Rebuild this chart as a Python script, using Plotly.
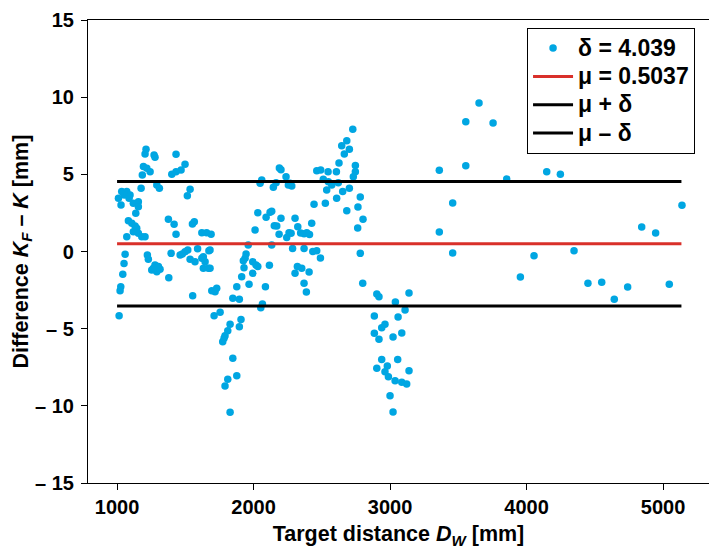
import plotly.graph_objects as go

# ---- data ----
dist_a = [1212,1205,1271,1278,1432,1193,1218,1242,1185,1498,1469,1432,1401,1291,1310,1176,1535,1515,
          1034,1071,1095,1010,1029,1119,1156,1156,1137,1053,1088,
          1083,1108,1132,1144,1156,1119,1181,1205,1071,
          1376,1418,1432,1566,1552,1621,1656,1689,
          1059,1051,1042,1027,1022,1015,
          1222,1229,1254,1278,1303,1291,1315,1266,
          1379,1396,1462,1498,1518,1478,1590,1673,
          1535,1571,1621,1645,1632,1669,1632,
          1554,1694,1718,1730]
diff_a = [6.62,6.32,6.25,6.1,6.3,5.5,5.39,5.17,4.96,5.65,5.28,5.17,5.0,4.31,4.1,4.1,4.03,3.62,
          3.88,3.88,3.66,3.45,3.01,3.12,3.23,2.9,2.48,3.66,3.45,
          2.0,1.83,1.65,1.5,1.18,1.28,0.96,0.96,0.96,
          2.09,1.76,1.11,1.93,1.78,1.22,1.22,1.11,
          -0.18,-0.77,-1.48,-2.28,-2.54,-4.16,
          -0.23,-0.51,-1.2,-0.87,-0.98,-1.31,-1.15,-1.09,
          -1.7,-0.12,-0.23,-0.01,0.1,-0.16,0.18,0.05,
          -0.51,-0.66,-0.44,-0.66,-1.09,-1.09,-0.34,
          -2.86,-2.54,-2.6,-2.38]

dist_b = [1681,1681,1945,1938,1925,1994,2018,2031,1930,1994,1913,1967,1877,2087,2116,2286,2321,2304,
          1848,1896,2065,2053,1711,1755,1828,1908,1896,1811,1791,1774,1784,1848,1811,1791,1877,1828,
          2189,2201,2060,2048,2238,2267,2280,2255,2165,2145,
          2031,2092,2121,2133,2201,2304,2011,2152,2170,2187,2260,2243,2275,2324,1961,2133]
diff_b = [0.1,-1.09,-0.16,-0.44,-0.6,-0.66,-0.87,-0.98,-1.05,-1.41,-1.63,-2.13,-2.28,-2.28,-0.89,0.2,-0.98,-1.41,
          -3.03,-3.1,-3.4,-3.64,-4.16,-3.94,-4.72,-4.4,-4.87,-5.13,-5.46,-5.84,-5.62,-6.92,-8.28,-8.72,-8.05,-10.42,
          5.41,5.3,4.63,4.42,4.85,4.42,4.24,4.31,4.46,4.16,
          2.51,2.22,2.54,2.6,2.15,2.15,1.39,1.67,1.65,1.11,1.22,0.9,1.18,1.61,0.42,0.42]

dist_c = [2727,2683,2646,2702,2665,2626,2746,2463,2492,2546,2607,2746,2731,2511,2548,2573,2621,2536,2653,2702,
          2609,2782,2443,2526,2765,2683,2802,2763,2426,
          2345,2370,2390,2410,2370,2434,2463,2490,2782,2353,2407,2370,2387,2800,
          2903,2919,3039,3139,3110,3059,2885,2939,2963,3086,2885,2919,3022,2939,3056,2903,2980,2963,2988,
          3139,3037,3086,3122,3000,3022]
diff_c = [7.92,7.18,6.86,6.62,6.32,5.73,5.58,5.24,5.28,5.17,5.17,5.17,4.85,4.68,4.52,4.31,4.46,3.99,3.88,4.1,
          3.45,3.53,3.06,3.12,2.88,2.64,2.09,1.52,1.83,
          1.2,1.15,1.22,1.1,0.2,0.0,0.05,-0.42,-0.12,-1.09,-1.33,-2.06,-2.62,-2.06,
          -2.75,-2.93,-3.27,-2.69,-3.79,-4.24,-4.18,-4.94,-4.72,-5.28,-5.3,-5.69,-5.54,-6.99,-6.99,-7.57,-7.42,-7.79,-8.11,
          -7.72,-8.37,-8.48,-8.59,-9.34,-10.4]

dist_d = [3361,3555,3652,3555,3755,3855,4148,4248,3459,3361,3459,4348,4055,3955,5139,4844,4946,4450,4551,4741,4643,5046]
diff_d = [5.26,5.56,9.62,8.41,8.33,4.70,5.17,5.0,3.14,1.26,-0.1,0.05,-0.27,-1.65,2.99,1.59,1.2,-2.06,-2.0,-2.3,-3.1,-2.13]

mu = 0.5037
delta = 4.039
line_start = 1000
line_end = 5135

x_ticks = [1000, 2000, 3000, 4000, 5000]
y_ticks = [-15, -10, -5, 0, 5, 10, 15]
y_ticktext = ["\u2013 15", "\u2013 10", "\u2013 5", "0", "5", "10", "15"]

distances = dist_a + dist_b + dist_c + dist_d
diffs = diff_a + diff_b + diff_c + diff_d

FONT = "Liberation Sans"


def leg(txt):
    return f'<span style="font-size:23px"><b>{txt}</b></span>'


fig = go.Figure()
fig.add_trace(go.Scatter(x=distances, y=diffs, mode="markers",
                         marker=dict(size=7.5, color="#00a6e2", line=dict(width=0)),
                         name=leg("\u03b4 = 4.039"), legendgroup="a"))
fig.add_trace(go.Scatter(x=[line_start, line_end], y=[mu, mu], mode="lines",
                         line=dict(color="#d9302a", width=3),
                         name=leg("\u03bc = 0.5037"), legendgroup="b"))
fig.add_trace(go.Scatter(x=[line_start, line_end], y=[mu + delta, mu + delta], mode="lines",
                         line=dict(color="black", width=3),
                         name=leg("\u03bc + \u03b4"), legendgroup="c"))
fig.add_trace(go.Scatter(x=[line_start, line_end], y=[mu - delta, mu - delta], mode="lines",
                         line=dict(color="black", width=3),
                         name=leg("\u03bc \u2013 \u03b4"), legendgroup="d"))

fig.update_layout(
    width=709, height=549,
    margin=dict(l=88, r=0, t=20, b=66),
    paper_bgcolor="white", plot_bgcolor="white",
    font=dict(family=FONT, size=20, color="black"),
    showlegend=True,
    legend=dict(x=0.707, y=0.983, xanchor="left", yanchor="top",
                bgcolor="white", bordercolor="black", borderwidth=1,
                font=dict(family=FONT, size=19.5, color="black"),
                tracegroupgap=0, traceorder="grouped", itemwidth=40),
    xaxis=dict(range=[787, 5337], tickvals=x_ticks,
               ticktext=[f"<b>{v}</b>" for v in x_ticks],
               tickfont=dict(family=FONT, size=20),
               showline=True, linecolor="black", linewidth=1.2, mirror=True,
               ticks="outside", ticklen=6, tickcolor="black",
               showgrid=False, zeroline=False,
               title=dict(text="<b>Target distance <i>D<sub>W</sub></i> [mm]</b>", standoff=9,
                          font=dict(family=FONT, size=21.5))),
    yaxis=dict(range=[-15, 15], tickvals=y_ticks,
               ticktext=[f"<b>{t}</b>" for t in y_ticktext],
               tickfont=dict(family=FONT, size=20),
               ticklabelstandoff=3,
               showline=True, linecolor="black", linewidth=1.2, mirror=False,
               ticks="outside", ticklen=6, tickcolor="black",
               showgrid=False, zeroline=False,
               title=dict(text="<b>Difference <i>K<sub>F</sub></i> \u2013 <i>K</i> [mm]</b>", standoff=0,
                          font=dict(family=FONT, size=21.5))),
)

fig.write_html("out.html", config={"displayModeBar": False},
               post_script="document.body.style.margin='0';document.body.style.overflow='hidden';")
